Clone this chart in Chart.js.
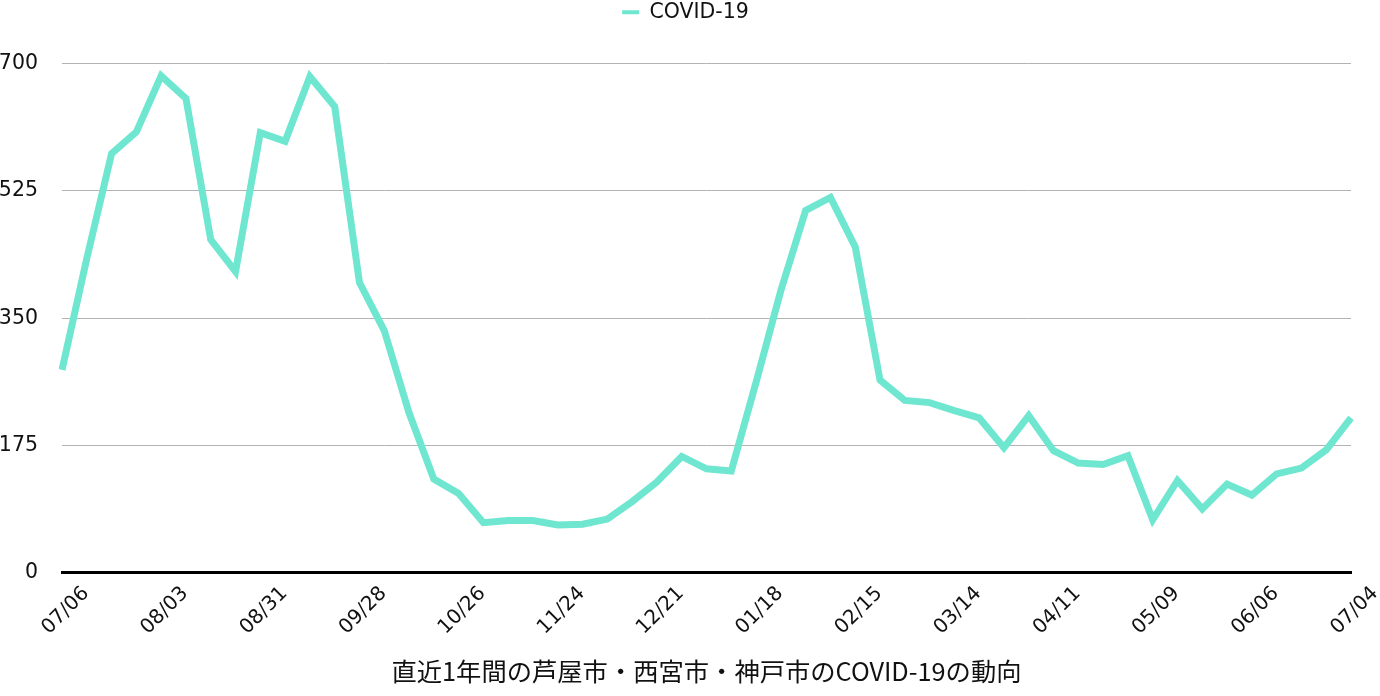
<!DOCTYPE html>
<html>
<head>
<meta charset="utf-8">
<script src="https://cdn.jsdelivr.net/npm/chart.js@4"></script>
<style>
html,body{margin:0;padding:0;background:#fff;}
#wrap{width:1380px;height:696px;}
</style>
</head>
<body>
<div id="wrap"><canvas id="c" width="1380" height="696"></canvas></div>
<script>
const weeks = ["07/06","07/13","07/20","07/27","08/03","08/10","08/17","08/24","08/31","09/07","09/14","09/21","09/28","10/05","10/12","10/19","10/26","11/02","11/09","11/16","11/24","11/30","12/07","12/14","12/21","12/28","01/04","01/11","01/18","01/25","02/01","02/08","02/15","02/22","03/01","03/07","03/14","03/21","03/28","04/04","04/11","04/18","04/25","05/02","05/09","05/16","05/23","05/30","06/06","06/13","06/20","06/27","07/04"];
const covid = [279,432,576,606,683,652,458,414,605,593,682,641,399,333,220,129,109,69,72,72,66,67,74,98,125,160,143,140,262,388,498,516,448,265,237,234,223,213,172,216,168,151,149,161,73,127,88,122,107,136,144,169,213];
const yTicks = [0,175,350,525,700];
const seriesName = "COVID-19";
const chartTitle = "直近1年間の芦屋市・西宮市・神戸市のCOVID-19の動向";

Chart.defaults.font.family = "'DejaVu Sans','Noto Sans',sans-serif";
Chart.defaults.color = "#111";

const layoutTweaks = {
  id: 'layoutTweaks',
  beforeLayout(chart) {
    const lg = chart.legend;
    if (lg && !lg._gapPatched) {
      const orig = lg.fit;
      lg.fit = function () { orig.call(this); this.height += 31; };
      lg._gapPatched = true;
    }
  },
  afterLayout(chart) {
    if (chart.titleBlock) chart.titleBlock.left = chart.chartArea.left;
    if (chart.legend) chart.legend.left = 20;
  }
};

new Chart(document.getElementById('c'), {
  type: 'line',
  data: {
    labels: weeks,
    datasets: [{
      label: seriesName,
      data: covid,
      borderColor: '#6ee6d0',
      backgroundColor: '#6ee6d0',
      borderWidth: 7,
      pointRadius: 0,
      tension: 0,
      fill: false
    }]
  },
  plugins: [layoutTweaks],
  options: {
    responsive: false,
    animation: false,
    layout: { padding: { left: 0, right: 29, top: 2, bottom: 9 } },
    plugins: {
      legend: {
        position: 'top',
        labels: {
          boxWidth: 17, boxHeight: 4,
          font: { size: 20.5 },
          color: '#111',
          padding: 0,
          generateLabels(chart) {
            const items = Chart.defaults.plugins.legend.labels.generateLabels(chart);
            items.forEach(it => { it.lineWidth = 0; it.fillStyle = '#6ee6d0'; it.strokeStyle = '#6ee6d0'; });
            return items;
          }
        }
      },
      title: {
        display: true,
        position: 'bottom',
        text: chartTitle,
        font: { family: "'Noto Sans CJK JP',sans-serif", size: 25.3, weight: 'normal' },
        color: '#111',
        padding: { top: 8, bottom: 0 }
      },
      tooltip: { enabled: false }
    },
    scales: {
      x: {
        grid: { display: false, drawTicks: false },
        border: { display: true, color: '#000', width: 3 },
        afterFit(scale) { scale.paddingLeft = 0; scale.paddingRight = 0; },
        ticks: {
          autoSkip: false,
          minRotation: 45, maxRotation: 45,
          labelOffset: 24,
          padding: 9,
          font: { size: 20 },
          color: '#111',
          callback(v, i) { return i % 4 === 0 ? weeks[i] : ''; }
        }
      },
      y: {
        min: 0, max: 700,
        afterBuildTicks(scale) { scale.ticks = yTicks.map(v => ({ value: v })); },
        afterFit(scale) { scale.width = 62; },
        grid: { color: '#b3b3b3', lineWidth: 1, drawTicks: false },
        border: { display: false },
        ticks: { padding: 24, font: { size: 20.5 }, color: '#111' }
      }
    }
  }
});
</script>
</body>
</html>
